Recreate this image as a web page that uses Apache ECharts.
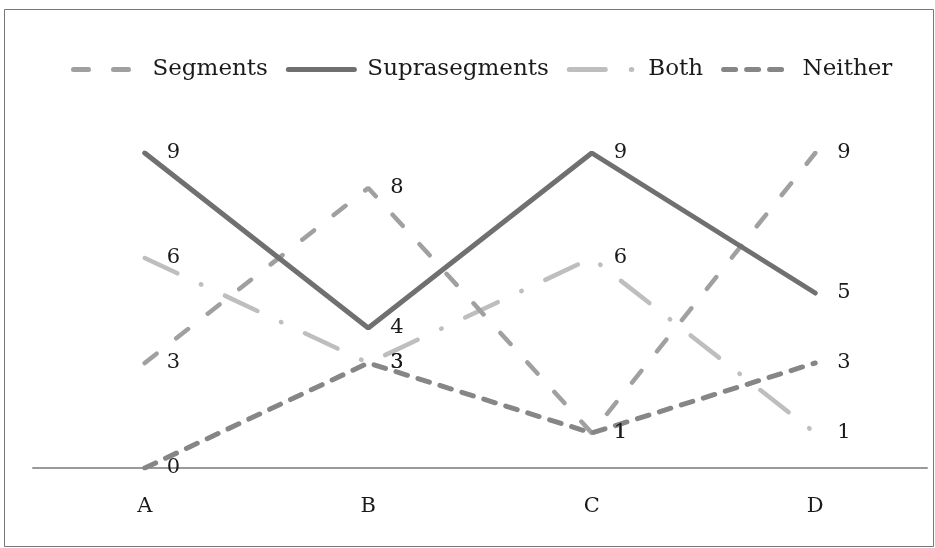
<!DOCTYPE html>
<html><head><meta charset="utf-8">
<script src="https://cdn.jsdelivr.net/npm/echarts@6/dist/echarts.min.js"></script>
<style>html,body{margin:0;padding:0;background:#fff}#c{width:935px;height:548px}</style>
</head><body><div id="c"></div>
<script>
const categories = ['A', 'B', 'C', 'D'];
const segments = [3, 8, 1, 9];
const suprasegments = [9, 4, 9, 5];
const both = [6, 3, 6, 1];
const neither = [0, 3, 1, 3];

const FONT = 'DejaVu Serif';
const chart = echarts.init(document.getElementById('c'));
function mk(name, data, color, dash, width, z) {
  return {
    name, type: 'line', data, symbol: 'circle', symbolSize: 0, showSymbol: true, z,
    lineStyle: { color, width, type: dash, cap: 'round' },
    itemStyle: { color },
    label: { show: true, position: 'right', distance: 22, color: '#1a1a1a', fontFamily: FONT, fontSize: 21 }
  };
}
chart.setOption({
  animation: false,
  graphic: [{ type: 'rect', shape: { x: 4.5, y: 9.5, width: 929, height: 537 }, style: { fill: 'none', stroke: '#777', lineWidth: 1 }, silent: true }],
  legend: {
    top: 53, left: 66, itemWidth: 66, itemHeight: 14, itemGap: 18,
    itemStyle: { opacity: 0 },
    lineStyle: { width: 5, cap: 'round' },
    textStyle: { fontFamily: FONT, fontSize: 23, color: '#1a1a1a', padding: [0, 0, 0, 8] },
    data: ['Segments', 'Suprasegments', 'Both', 'Neither']
  },
  grid: { left: 33, right: 8, top: 153, bottom: 80 },
  xAxis: {
    type: 'category', data: categories, boundaryGap: true,
    axisLine: { lineStyle: { color: '#999', width: 2 } },
    axisTick: { show: false },
    axisLabel: { fontFamily: FONT, fontSize: 21, color: '#1a1a1a', margin: 28 }
  },
  yAxis: { type: 'value', min: 0, max: 9, show: false, splitLine: { show: false } },
  series: [
    mk('Segments', segments, '#a0a0a0', [15, 25], 4.5, 3),
    mk('Suprasegments', suprasegments, '#707070', 'solid', 5, 4),
    mk('Both', both, '#bebebe', [36, 26, 0.5, 26], 4.5, 2),
    mk('Neither', neither, '#868686', [12, 11], 5, 5)
  ]
});
</script></body></html>
